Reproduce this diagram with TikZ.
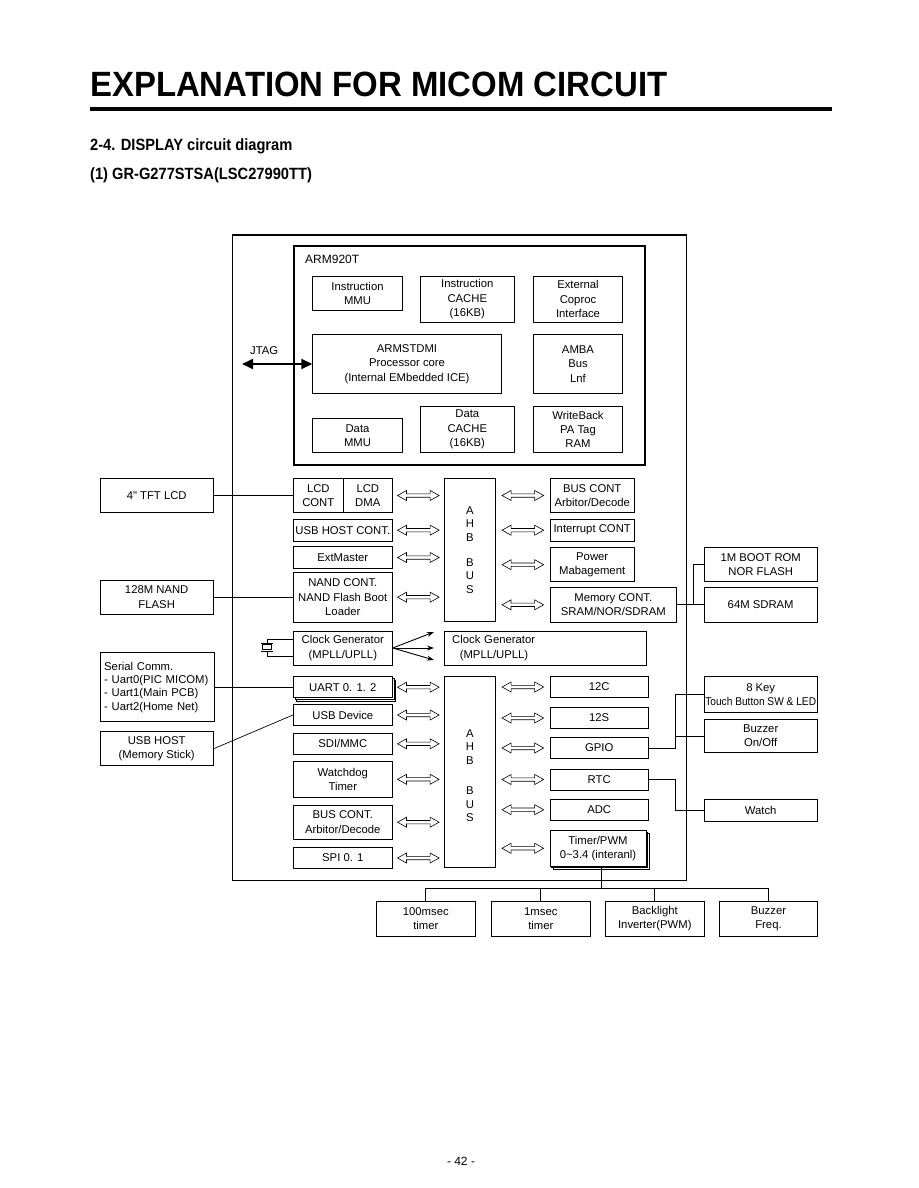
\documentclass[tikz,border=0pt]{standalone}
\usepackage{fontspec}
\setmainfont{Liberation Sans}
\usepackage{graphicx}
\usetikzlibrary{arrows.meta, positioning, calc, shadows}
\newcommand{\boxfont}{\fontsize{11.3}{14.3}\selectfont}
\newcommand{\busfont}{\fontsize{11.3}{13.6}\selectfont}
\tikzset{
  blk/.style={rectangle, draw, line width=0.8pt, fill=white, inner sep=1pt,
    align=center, font=\boxfont},
  lcol/.style={blk, minimum width=99pt},
  rcolA/.style={blk, minimum width=84.3pt},
  rcolB/.style={blk, minimum width=98.3pt},
  extL/.style={blk, minimum width=113.3pt},
  extR/.style={blk, minimum width=113.3pt},
  tbox/.style={blk, minimum width=98.3pt, minimum height=34.3pt},
  ahbbox/.style={blk, minimum width=51.4pt, font=\busfont},
  stackbox/.style={double copy shadow={shadow xshift=1.6pt, shadow yshift=-1.6pt}},
  wire/.style={line width=0.7pt},
  % hollow two-headed bus arrow, centred between the two ends
  busarr/.style={line width=0.6pt, to path={
    let \p1=(\tikztostart), \p2=(\tikztotarget), \n1={0.5*\x1+0.5*\x2} in
    ({\n1-20.8pt},\y1) -- ++(9pt,5pt) -- ++(0pt,-3.3pt) -- ++(23.6pt,0pt)
    -- ++(0pt,3.3pt) -- ++(9pt,-5pt) -- ++(-9pt,-5pt) -- ++(0pt,3.3pt)
    -- ++(-23.6pt,0pt) -- ++(0pt,-3.3pt) -- cycle}},
  clkarr/.style={line width=0.9pt, -{Stealth[length=7pt, width=5pt]}},
  jarr/.style={line width=1.8pt, {Triangle[length=11pt, width=10pt]}-{Triangle[length=11pt, width=10pt]}},
}

\begin{document}
\begin{tikzpicture}[x=1pt, y=-1pt]
  \path[fill=white, use as bounding box] (0,0) rectangle (918,1188);

  % page heading
  \node[anchor=base west, inner sep=0] (title) at (90,96)
    {\resizebox{577pt}{24.5pt}{\bfseries EXPLANATION FOR MICOM CIRCUIT}};
  \draw[line width=4pt] (90,108.7) -- (832,108.7);
  \node[anchor=base west, inner sep=0] (sect) at (90,150.7)
    {\scalebox{0.9}[1]{\fontsize{16.3}{18}\selectfont\bfseries 2-4. DISPLAY circuit diagram}};
  \node[anchor=base west, inner sep=0] (model) at (90,179.5)
    {\scalebox{0.9}[1]{\fontsize{16.3}{18}\selectfont\bfseries (1) GR-G277STSA(LSC27990TT)}};

  % chip outline and ARM core
  \node[draw, line width=1.3pt, inner sep=0, minimum width=454pt, minimum height=645.5pt]
    (soc) at (459.5,557.75) {};
  \node[draw, line width=2pt, inner sep=0, minimum width=351pt, minimum height=218.5pt]
    (arm) at (469,355.25) {};
  \node[anchor=base west, inner sep=0, font=\fontsize{12}{14}\selectfont] (armlbl) at (305,263.3) {ARM920T};

  \node[blk, minimum width=89.6pt, minimum height=34.3pt] (immu) at (357.5,293.2) {Instruction\\MMU};
  \node[blk, minimum width=93.3pt, minimum height=46.3pt] (icache) at (467.3,299.2) {Instruction\\CACHE\\(16KB)};
  \node[blk, minimum width=89.4pt, minimum height=46.3pt] (coproc) at (578,299.2) {External\\Coproc\\Interface};
  \node[blk, minimum width=188.6pt, minimum height=58.6pt] (core) at (407,364)
    {ARMSTDMI\\Processor core\\(Internal EMbedded ICE)};
  \node[blk, minimum width=89.4pt, minimum height=58.6pt] (amba) at (578,364) {AMBA\\Bus\\Lnf};
  \node[blk, minimum width=89.6pt, minimum height=34pt] (dmmu) at (357.5,435.7) {Data\\MMU};
  \node[blk, minimum width=93.3pt, minimum height=46.7pt] (dcache) at (467.3,429.3) {Data\\CACHE\\(16KB)};
  \node[blk, minimum width=89.4pt, minimum height=46.7pt] (wback) at (578,429.3) {WriteBack\\PA Tag\\RAM};

  \node[anchor=base west, inner sep=0, font=\boxfont] (jtaglbl) at (250,354) {JTAG};
  \coordinate (jtag) at (242,364);
  \draw[jarr] (jtag) -- (core.west);

  % left peripherals
  \node[blk, minimum width=50pt, minimum height=34.4pt] (lcdcont) at (318.3,495.5) {LCD\\CONT};
  \node[blk, minimum width=49pt, minimum height=34.4pt] (lcddma) at (367.8,495.5) {LCD\\DMA};
  \node[lcol, minimum height=21.7pt] (usbh) at (342.8,530.2) {USB HOST CONT.};
  \node[lcol, minimum height=21.6pt] (extm) at (342.8,557.5) {ExtMaster};
  \node[lcol, minimum height=49.7pt] (nand) at (342.8,597.2) {NAND CONT.\\NAND Flash Boot\\Loader};
  \node[lcol, minimum height=34pt] (clkl) at (342.8,648) {Clock Generator\\(MPLL/UPLL)};
  \node[lcol, stackbox, minimum height=21pt] (uart) at (342.8,687.2) {UART 0. 1. 2};
  \node[lcol, minimum height=21.4pt] (usbd) at (342.8,715) {USB Device};
  \node[lcol, minimum height=21pt] (sdi) at (342.8,743.8) {SDI/MMC};
  \node[lcol, minimum height=35.3pt] (wdt) at (342.8,779.3) {Watchdog\\Timer};
  \node[lcol, minimum height=34.3pt] (busl) at (342.8,822.2) {BUS CONT.\\Arbitor/Decode};
  \node[lcol, minimum height=20.6pt] (spi) at (342.8,858) {SPI 0. 1};

  % AHB buses
  \node[ahbbox, minimum height=143.4pt] (ahb1) at (470,550) {A\\H\\B\\[11.5pt]B\\U\\S};
  \node[ahbbox, minimum height=190.6pt] (ahb2) at (470,772) {\rule{0pt}{15pt}A\\H\\B\\[16.5pt]B\\U\\S};

  \node[blk, minimum width=201.7pt, minimum height=34pt, align=left, text width=186pt,
        inner xsep=7.5pt] (clkr) at (545.2,648) {Clock Generator\\\hspace*{7.6pt}(MPLL/UPLL)};

  % right peripherals
  \node[rcolA, minimum height=34.4pt] (busr) at (592.2,495.5) {BUS CONT\\Arbitor/Decode};
  \node[rcolA, minimum height=21.7pt] (intc) at (592.2,530.2) {Interrupt CONT};
  \node[rcolA, minimum height=34pt] (pwr) at (592.2,564.7) {Power\\Mabagement};
  \node[blk, minimum width=126.7pt, minimum height=34.3pt] (mem) at (613.3,604.8) {Memory CONT.\\SRAM/NOR/SDRAM};
  \node[rcolB, minimum height=20.6pt] (iic) at (599.2,687) {12C};
  \node[rcolB, minimum height=20.6pt] (iis) at (599.2,718) {12S};
  \node[rcolB, minimum height=20.6pt] (gpio) at (599.2,748) {GPIO};
  \node[rcolB, minimum height=21pt] (rtc) at (599.2,779.5) {RTC};
  \node[rcolB, minimum height=20.7pt] (adc) at (599.2,809.7) {ADC};
  \node[blk, stackbox, minimum width=96pt, minimum height=35.3pt] (tmr) at (598,848.3)
    {Timer/PWM\\0\textasciitilde3.4 (interanl)};

  % external parts
  \node[extL, minimum height=34.4pt] (tft) at (156.7,495.5) {4\textquotedbl\ TFT LCD};
  \node[extL, minimum height=34.3pt] (nflash) at (156.7,597.2) {128M NAND\\FLASH};
  \node[blk, minimum width=114.3pt, minimum height=69pt, align=left, text width=106pt,
        inner xsep=4pt, font=\fontsize{11.3}{13.4}\selectfont] (serial) at (157.2,687.2)
    {Serial Comm.\\- Uart0(PIC MICOM)\\- Uart1(Main PCB)\\- Uart2(Home Net)};
  \node[extL, minimum height=34pt] (usbhost) at (156.7,748.7) {USB HOST\\(Memory Stick)};
  \node[extR, minimum height=34pt] (bootrom) at (760.7,564.7) {1M BOOT ROM\\NOR FLASH};
  \node[extR, minimum height=34.3pt] (sdram) at (760.7,604.8) {64M SDRAM};
  \node[extR, minimum height=36.7pt] (key) at (760.7,694.3)
    {8 Key\\\scalebox{0.9}[1]{Touch Button SW \& LED}};
  \node[extR, minimum height=33.4pt] (buzz) at (760.7,736) {Buzzer\\On/Off};
  \node[extR, minimum height=21.7pt] (watch) at (760.7,810.2) {Watch};
  \node[tbox] (t100) at (425.8,918.8) {100msec\\timer};
  \node[tbox] (t1) at (540.8,918.8) {1msec\\timer};
  \node[tbox] (bl) at (654.8,918.8) {Backlight\\Inverter(PWM)};
  \node[tbox] (bzf) at (768.5,918.8) {Buzzer\\Freq.};

  % crystal
  \draw[wire] (clkl.west |- 0,639.5) -- (267,639.5) -- (267,643);
  \draw[wire] (261,643) -- (273,643);
  \draw[wire] (262.5,644.8) rectangle (271.5,649.8);
  \draw[wire] (261,651.5) -- (273,651.5);
  \draw[wire] (267,651.5) -- (267,656) -- (clkl.west |- 0,656);

  % bus arrows
  \foreach \m in {lcddma,usbh,extm,nand}
    \draw[busarr] (\m.east) to (\m.east -| ahb1.west);
  \foreach \m in {uart,usbd,sdi,wdt,busl,spi}
    \draw[busarr] (\m.east) to (\m.east -| ahb2.west);
  \foreach \s in {busr,intc,pwr,mem}
    \draw[busarr] (\s.west -| ahb1.east) to (\s.west);
  \foreach \s in {iic,iis,gpio,rtc,adc,tmr}
    \draw[busarr] (\s.west -| ahb2.east) to (\s.west);

  \foreach \dy in {-16,0,12}
    \draw[clkarr] (clkl.east) -- ($(clkr.west)+(-10,\dy)$);

  % wiring to external parts
  \draw[wire] (tft.east) -- (lcdcont.west);
  \draw[wire] (nflash.east) -- (nand.west);
  \draw[wire] (serial.east) -- (uart.west);
  \draw[wire] (usbhost.east) -- (usbd.west);
  \coordinate (memj) at ($(mem.east)!0.6!(sdram.west)$);
  \draw[wire] (mem.east) -- (sdram.west);
  \draw[wire] (memj) |- (bootrom.west);
  \coordinate (gpioj) at ($(gpio.east)+(26.7,0)$);
  \draw[wire] (gpio.east) -- (gpioj) |- (key.west);
  \draw[wire] (gpioj) |- (buzz.west);
  \draw[wire] (rtc.east) -- ++(26.7,0) |- (watch.west);
  \coordinate (tbus) at ($(tmr.south)+(3,22.3)$);
  \draw[wire] (tmr.south -| tbus) -- (tbus);
  \draw[wire] (t100.north) |- (tbus) -| (bzf.north);
  \draw[wire] (t1.north) -- (t1.north |- tbus);
  \draw[wire] (bl.north) -- (bl.north |- tbus);

  \node[anchor=base, inner sep=0, font=\fontsize{12}{14}\selectfont] (pageno) at (461,1165) {- 42 -};
\end{tikzpicture}
\end{document}
